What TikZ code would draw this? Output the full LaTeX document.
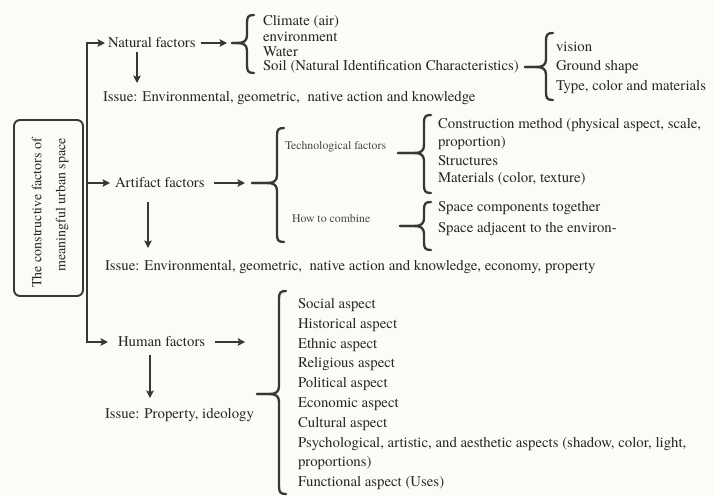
\documentclass[tikz,border=0pt]{standalone}
\usepackage{fontspec}
\setmainfont{TeX Gyre Termes}
\usetikzlibrary{arrows.meta,calc}

\definecolor{paper}{RGB}{252,251,248}
\definecolor{ink}{RGB}{38,38,38}
\definecolor{stroke}{RGB}{55,55,55}

\tikzset{
  txt/.style={anchor=west, inner sep=0pt, outer sep=0pt, text=ink,
              font=\fontsize{14.8}{16}\selectfont},
  smalltxt/.style={txt, text=ink!85, font=\fontsize{11.8}{13}\selectfont},
  arr/.style={draw=stroke, line width=1.6pt,
              -{Stealth[length=7.5pt,width=7.5pt,inset=1.5pt]}},
  bracestroke/.style={draw=stroke, line width=2.3pt, line cap=round, line join=round},
  framebox/.style={draw=stroke, line width=1.9pt, rounded corners=6pt},
}

% curly brace: #1 name of the dash end, #2 spine x, #3 top y, #4 tip y,
% #5 bottom y, #6 x where the tip dash starts
\newcommand{\curlybrace}[6]{%
  \coordinate (#1) at (#6,#4);
  \draw[bracestroke] (#2+7,#3) .. controls (#2+1,#3) and (#2,#3+2) .. (#2,#3+8)
        -- (#2,#4-8) .. controls (#2,#4-2) and (#2-3,#4) .. (#2-10,#4) -- (#1);
  \draw[bracestroke] (#1) -- (#2-10,#4) .. controls (#2-3,#4) and (#2,#4+2) .. (#2,#4+8)
        -- (#2,#5-8) .. controls (#2,#5-2) and (#2+1,#5) .. (#2+7,#5);
}

\begin{document}
\begin{tikzpicture}[x=1pt,y=-1pt]
  \fill[paper] (0,0) rectangle (714,496);
  \useasboundingbox (0,0) rectangle (714,496);

  % title box
  \node[framebox, minimum width=69pt, minimum height=176pt] (core) at (48.5,208) {};
  \node[txt, rotate=90, anchor=east, align=right,
        font=\fontsize{14}{24}\selectfont] (title) at (50,138)
        {The constructive factors of\\meaningful urban space};

  % the three factor groups
  \node[txt] (nat) at (108,43) {Natural factors};
  \node[txt] (art) at (115,183) {Artifact factors};
  \node[txt] (hum) at (118,342) {Human factors};

  \coordinate (tTop) at (87,43);
  \coordinate (tBot) at (87,342);

  % trunk with arrows to natural and human factors
  \draw[{Stealth[length=7.5pt,width=7.5pt,inset=1.5pt]}-{Stealth[length=7.5pt,width=7.5pt,inset=1.5pt]},
        draw=stroke, line width=1.6pt, shorten <=3pt, shorten >=10pt]
        (nat.west) -- (tTop) -- (tBot) -- (hum.west);
  \draw[arr, shorten >=5pt] (tTop |- art.west) -- (art.west);

  % ---------- natural factors ----------
  \node[txt] (nc1) at (263,22) {Climate (air)};
  \node[txt] (nc2) at (263,37) {environment};
  \node[txt] (nc3) at (263,52) {Water};
  \node[txt] (nc4) at (263,67) {Soil (Natural Identification Characteristics)};
  \curlybrace{natTip}{247}{15}{43}{73}{232}
  \draw[arr] ([xshift=5pt]nat.east) -- ([xshift=-5pt]natTip);

  \node[txt] (sv1) at (556,47) {vision};
  \node[txt] (sv2) at (556,67) {Ground shape};
  \node[txt] (sv3) at (556,87) {Type, color and materials};
  \curlybrace{soilTip}{546}{33}{67}{100}{525}

  \node[txt] (issN) at (103,98) {Issue: Environmental, geometric,\ \ native action and knowledge};
  \draw[arr] ($(nat.west)+(29,9)$) -- ($(issN.west)+(34,-15)$);

  % ---------- artifact factors ----------
  \curlybrace{artTip}{277}{128}{183}{242}{252}
  \draw[arr] ([xshift=9pt]art.east) -- ([xshift=-7pt]artTip);

  \node[smalltxt] (tech) at (285,147) {Technological factors};
  \node[smalltxt] (comb) at (292,219) {How to combine};

  \curlybrace{techTip}{424}{115}{153}{193}{398}
  \node[txt] (t1) at (438,125) {Construction method (physical aspect, scale,};
  \node[txt] (t2) at (438,143) {proportion)};
  \node[txt] (t3) at (438,161) {Structures};
  \node[txt] (t4) at (438,179) {Materials (color, texture)};

  \curlybrace{combTip}{424}{202}{226}{250}{400}
  \node[txt] (c1) at (438,208) {Space components together};
  \node[txt] (c2) at (438,229) {Space adjacent to the environ-};

  \node[txt] (issA) at (105,267) {Issue: Environmental, geometric,\ \ native action and knowledge, economy, property};
  \draw[arr] ($(art.west)+(33,19)$) -- ($(issA.west)+(43,-19)$);

  % ---------- human factors ----------
  \draw[arr] ([xshift=10pt]hum.east) -- ([xshift=40pt]hum.east);
  \curlybrace{humTip}{279}{291}{394}{494}{257}
  \foreach \t [count=\i] in {Social aspect, Historical aspect, Ethnic aspect,
      Religious aspect, Political aspect, Economic aspect, Cultural aspect,
      {Psychological, artistic, and aesthetic aspects (shadow, color, light,},
      proportions), Functional aspect (Uses)}
    \node[txt] (h\i) at (298,{305+19.8*(\i-1)}) {\t};

  \node[txt] (issH) at (105,415) {Issue: Property, ideology};
  \draw[arr] ($(hum.west)+(32,13)$) -- ($(issH.west)+(45,-17)$);
\end{tikzpicture}
\end{document}
